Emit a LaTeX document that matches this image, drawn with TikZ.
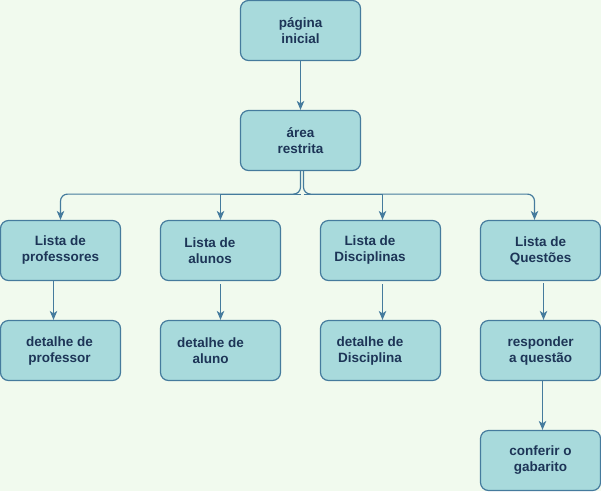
\documentclass[tikz,border=0pt]{standalone}
\usepackage{fontspec}
\setmainfont{Liberation Sans}
\usetikzlibrary{arrows.meta}
\definecolor{bgc}{HTML}{F1FAEE}
\definecolor{boxfill}{HTML}{A8DADC}
\definecolor{boxline}{HTML}{457B9D}
\definecolor{txt}{HTML}{1D3557}
\begin{document}
\begin{tikzpicture}[x=1pt,y=-1pt,
  stepbox/.style={draw=boxline, fill=boxfill, line width=1.2pt, rounded corners=8pt,
    minimum width=120pt, minimum height=60pt, inner sep=0pt, align=center, text=txt,
    font=\fontsize{13.5}{16}\selectfont\bfseries},
  conn/.style={draw=boxline, line width=1.2pt, -{Stealth[length=9pt,width=7.5pt,inset=2.5pt]}}]
\fill[bgc] (0,0) rectangle (601,491);
\useasboundingbox (0,0) rectangle (601,491);

\node[stepbox] (pag) at (300.5,30.5) {página\\inicial};
\node[stepbox] (area) at (300.5,140.5) {área\\restrita};
\node[stepbox] (prof) at (60.5,250.5) {Lista de\\professores};
\node[stepbox] (alu) at (220.5,250.5) {Lista de\hspace*{21pt}\\alunos\hspace*{21pt}};
\node[stepbox] (disc) at (380.5,250.5) {Lista de\hspace*{21pt}\\Disciplinas\hspace*{21pt}};
\node[stepbox] (quest) at (540.5,250.5) {Lista de\\Questões};
\node[stepbox] (dprof) at (60.5,350.5) {detalhe de\hspace*{2pt}\\professor\hspace*{2pt}};
\node[stepbox] (dalu) at (220.5,350.5) {detalhe de\hspace*{20pt}\\aluno\hspace*{20pt}};
\node[stepbox] (ddisc) at (380.5,350.5) {detalhe de\hspace*{21pt}\\Disciplina\hspace*{21pt}};
\node[stepbox] (resp) at (540.5,350.5) {responder\\a questão};
\node[stepbox] (conf) at (540.5,460.5) {conferir o\\gabarito};

\draw[conn] (pag.south) -- (area.north);
\draw[conn, rounded corners=7pt] (area.south) -- ++(0,23) -| (prof.north);
\draw[conn, rounded corners=7pt] ([xshift=3pt]area.south) -- ++(0,23) -| ([xshift=-6pt]quest.north);
\draw[conn] (area.south) ++(0,23) -| (alu.north);
\draw[conn] ([xshift=3pt]area.south) ++(0,23) -| ([xshift=2pt]disc.north);

\draw[conn] ([xshift=-7pt]prof.south) -- ([xshift=-7pt]dprof.north);
\draw[conn, shorten <=3pt] (alu.south) -- (dalu.north);
\draw[conn, shorten <=3pt] ([xshift=2pt]disc.south) -- ([xshift=2pt]ddisc.north);
\draw[conn, shorten <=2pt] ([xshift=3pt]quest.south) -- ([xshift=3pt]resp.north);
\draw[conn] ([xshift=2pt]resp.south) -- ([xshift=2pt]conf.north);
\end{tikzpicture}
\end{document}
